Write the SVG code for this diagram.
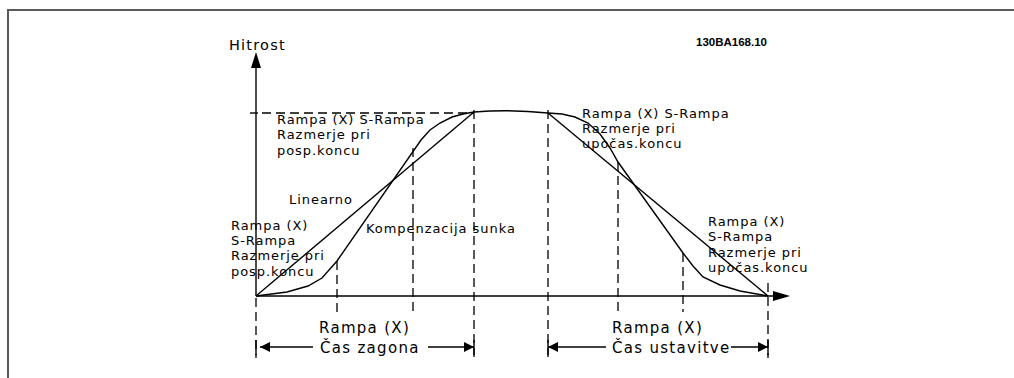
<svg xmlns="http://www.w3.org/2000/svg" width="1014" height="378" viewBox="0 0 1014 378">
<style>
.t{font-family:"DejaVu Sans",Verdana,sans-serif;font-size:13px;letter-spacing:0.95px;fill:#000}
.b{font-size:15px;letter-spacing:1.3px}
.h{font-size:14.5px;letter-spacing:1.2px}
.code{font-family:"Liberation Sans",Arial,sans-serif;font-size:11.5px;font-weight:bold;fill:#000}
.ln{fill:none;stroke:#000;stroke-width:1.4}
.ds{fill:none;stroke:#000;stroke-width:1.3;stroke-dasharray:9 5}
.frame{fill:none;stroke:#5a5a5a;stroke-width:2}
</style>
<defs>
<marker id="ah" markerWidth="10" markerHeight="10" refX="10" refY="5" orient="auto" markerUnits="userSpaceOnUse"><path d="M0,0 L10,5 L0,10 Z" fill="#000"/></marker>
</defs>
<rect width="1014" height="378" fill="#fff"/>
<path class="frame" d="M8,378 V10 H1014"/>
<g id="axes">
<line class="ln" x1="256" y1="296" x2="256" y2="67"/>
<path d="M256,52 L251,68 L261,68 Z" fill="#000"/>
<line class="ln" x1="256" y1="296" x2="774" y2="296"/>
<path d="M790,296 L773,291 L773,301 Z" fill="#000"/>
</g>
<g id="guides">
<line class="ln" x1="250" y1="113" x2="258" y2="113"/>
<line class="ds" x1="262" y1="113" x2="474" y2="113"/>
<line class="ds" x1="256" y1="298" x2="256" y2="358"/>
<line class="ds" x1="337" y1="261" x2="337" y2="312"/>
<line class="ds" x1="413" y1="148" x2="413" y2="312"/>
<line class="ds" x1="474" y1="110" x2="474" y2="358"/>
<line class="ds" x1="548" y1="110" x2="548" y2="358"/>
<line class="ds" x1="618" y1="162" x2="618" y2="312"/>
<line class="ds" x1="683" y1="253" x2="683" y2="312"/>
<line class="ds" x1="768" y1="283" x2="768" y2="358"/>
</g>
<g id="curves">
<polyline class="ln" points="256,296 474,112"/>
<polyline class="ln" points="548,113 768,296"/>
<polyline class="ln" points="256,296 287,292 308,286 322,278 337,261 421,140 430,130 440,123 452,117 463,114 474,112"/>
<path class="ln" d="M474,112 Q511,109 548,113"/>
<polyline class="ln" points="548,113 562,114 575,117 588,123 600,134 610,148 618,162 683,253 693,266 703,277 720,285 740,291 768,296"/>
</g>
<g id="dimensions">
<line class="ln" x1="256" y1="340" x2="256" y2="355"/>
<line class="ln" x1="474" y1="340" x2="474" y2="355"/>
<line class="ln" x1="548" y1="340" x2="548" y2="355"/>
<line class="ln" x1="768" y1="340" x2="768" y2="355"/>
<line class="ln" x1="313" y1="347" x2="260" y2="347" marker-end="url(#ah)"/>
<line class="ln" x1="428" y1="347" x2="474" y2="347" marker-end="url(#ah)"/>
<line class="ln" x1="606" y1="347" x2="548" y2="347" marker-end="url(#ah)"/>
<line class="ln" x1="731" y1="347" x2="768" y2="347" marker-end="url(#ah)"/>
</g>
<g id="labels">
<text class="t h" x="229" y="50">Hitrost</text>
<text class="code" x="696" y="46">130BA168.10</text>
<text class="t" x="277" y="124">Rampa (X) S-Rampa</text>
<text class="t" x="277" y="139">Razmerje pri</text>
<text class="t" x="277" y="155">posp.koncu</text>
<text class="t" x="289" y="204">Linearno</text>
<text class="t" x="231" y="230">Rampa (X)</text>
<text class="t" x="231" y="245">S-Rampa</text>
<text class="t" x="231" y="260">Razmerje pri</text>
<text class="t" x="231" y="276">posp.koncu</text>
<text class="t" x="366" y="233">Kompenzacija sunka</text>
<text class="t" x="582" y="118">Rampa (X) S-Rampa</text>
<text class="t" x="582" y="133">Razmerje pri</text>
<text class="t" x="582" y="148">upočas.koncu</text>
<text class="t" x="708" y="226">Rampa (X)</text>
<text class="t" x="708" y="241">S-Rampa</text>
<text class="t" x="708" y="257">Razmerje pri</text>
<text class="t" x="708" y="272">upočas.koncu</text>
<text class="t b" x="319" y="333">Rampa (X)</text>
<text class="t b" x="320" y="353">Čas zagona</text>
<text class="t b" x="612" y="333">Rampa (X)</text>
<text class="t b" x="612" y="353">Čas ustavitve</text>
</g>
</svg>
